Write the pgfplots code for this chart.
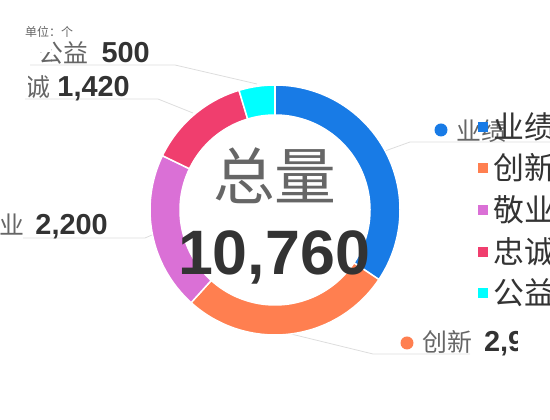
\documentclass[border=0pt]{standalone}
\usepackage{pgfplots}
\pgfplotsset{compat=1.18}
\usepackage{pgfplotstable}
\usepackage{fontspec}
\setmainfont{Liberation Sans}
\newfontfamily\cjk{Noto Sans CJK SC}

\definecolor{cYJ}{HTML}{187BE6}
\definecolor{cCX}{HTML}{FF7F50}
\definecolor{cJY}{HTML}{DA70D6}
\definecolor{cZC}{HTML}{F03E6E}
\definecolor{cGY}{HTML}{00FFFF}
\definecolor{txt}{HTML}{666666}
\definecolor{dark}{HTML}{333333}
\definecolor{lead}{HTML}{DDDDDD}

% values per category (业绩, 创新, 敬业, 忠诚, 公益)
\pgfplotstableread{
value color
3700 cYJ
2940 cCX
2200 cJY
1420 cZC
500  cGY
}\datatable

\newcommand\lab[3][11bp]{{\cjk\fontsize{25}{30}\selectfont\color{txt}#2}\hspace{#1}{\fontsize{29}{32}\selectfont\bfseries\color{dark}#3}}
\newcommand\leg[1]{{\cjk\fontsize{31}{34}\selectfont\color{dark}#1}}

\begin{document}
\begin{tikzpicture}
\def\total{0}
\pgfplotsforeachungrouped \i in {0,...,4}{%
  \pgfplotstablegetelem{\i}{value}\of\datatable
  \pgfmathsetmacro\total{\total+\pgfplotsretval}%
}

% leader lines (image pixel coordinates)
\begin{scope}[yshift=420bp, x=1bp, y=-1bp]
  \draw[lead, line width=0.8bp] (385,151) -- (410,142) -- (560,142);
  \draw[lead, line width=0.8bp] (291,334) -- (373,354) -- (470,354);
  \draw[lead, line width=0.8bp] (152,235) -- (145,238) -- (23,238);
  \draw[lead, line width=0.8bp] (193,113) -- (158,99) -- (25,99);
  \draw[lead, line width=0.8bp] (257,84) -- (175,65) -- (30,65);
\end{scope}

\begin{axis}[
    at={(0,0)}, anchor=south west,
    x=1bp, y=1bp,
    xmin=0, xmax=550, ymin=0, ymax=420,
    hide axis,
    clip=false,
  ]
  \def\astart{90}
  \pgfplotsforeachungrouped \i in {0,...,4}{%
    \pgfplotstablegetelem{\i}{value}\of\datatable \let\val\pgfplotsretval
    \pgfplotstablegetelem{\i}{color}\of\datatable \let\col\pgfplotsretval
    \pgfmathsetmacro\frac{\val/\total}%
    \pgfmathsetmacro\aend{\astart-360*\frac}%
    \edef\temp{\noexpand\fill[\col, draw=white, line width=1.5bp]
      (axis cs:{275+125*cos(\astart)},{210+125*sin(\astart)})
      arc[start angle=\astart, end angle=\aend, radius=125bp]
      -- (axis cs:{275+95*cos(\aend)},{210+95*sin(\aend)})
      arc[start angle=\aend, end angle=\astart, radius=95bp] -- cycle;}%
    \temp
    \let\astart\aend
  }
\end{axis}

\begin{scope}[yshift=420bp, x=1bp, y=-1bp]
  % left labels
  \begin{scope}
    \clip (51,36) rectangle (200,72);
    \node[anchor=base east, inner sep=0] at (150,63) {\lab[13bp]{公益}{500}};
  \end{scope}
  \begin{scope}
    \clip (0,53) rectangle (51,72);
    \node[anchor=base east, inner sep=0] at (150,63) {\lab[13bp]{公益}{500}};
  \end{scope}
  \begin{scope}
    \clip (28,70) rectangle (200,110);
    \node[anchor=base east, inner sep=0] at (130,97) {\lab[7bp]{忠诚}{1,420}};
  \end{scope}
  \node[anchor=base east, inner sep=0] at (108,235) {\lab[11bp]{敬业}{2,200}};
  % unit
  \node[anchor=west, inner sep=0] at (25,32) {\cjk\fontsize{12}{14}\selectfont\color{txt}单位：个};
  % centre text
  \node[anchor=center, inner sep=0] at (275,176) {\cjk\fontsize{62}{70}\selectfont\color{txt}总量};
  \node[anchor=base, inner sep=0] at (274,275) {\fontsize{63}{70}\selectfont\bfseries\color{dark}10,760};
  % right labels
  \begin{scope}
    \clip (380,100) rectangle (517,380);
    \fill[cYJ] (441,130) circle[radius=6.5];
    \node[anchor=base west, inner sep=0] at (456,141) {\lab[12bp]{业绩}{3,700}};
    \fill[cCX] (407,343) circle[radius=6.5];
    \node[anchor=base west, inner sep=0] at (422,352) {\lab[12bp]{创新}{2,940}};
  \end{scope}
  % legend
  \fill[cYJ] (478,122) rectangle (488,132);
  \node[anchor=west, inner sep=0] at (493,127) {\leg{业绩}};
  \fill[cCX] (478,163) rectangle (488,173);
  \node[anchor=west, inner sep=0] at (493,168) {\leg{创新}};
  \fill[cJY] (478,205) rectangle (488,215);
  \node[anchor=west, inner sep=0] at (493,210) {\leg{敬业}};
  \fill[cZC] (478,247) rectangle (488,257);
  \node[anchor=west, inner sep=0] at (493,252) {\leg{忠诚}};
  \fill[cGY] (478,288) rectangle (488,298);
  \node[anchor=west, inner sep=0] at (493,293) {\leg{公益}};
\end{scope}

\pgfresetboundingbox
\path[use as bounding box] (0,0) rectangle (550bp,420bp);
\end{tikzpicture}
\end{document}
